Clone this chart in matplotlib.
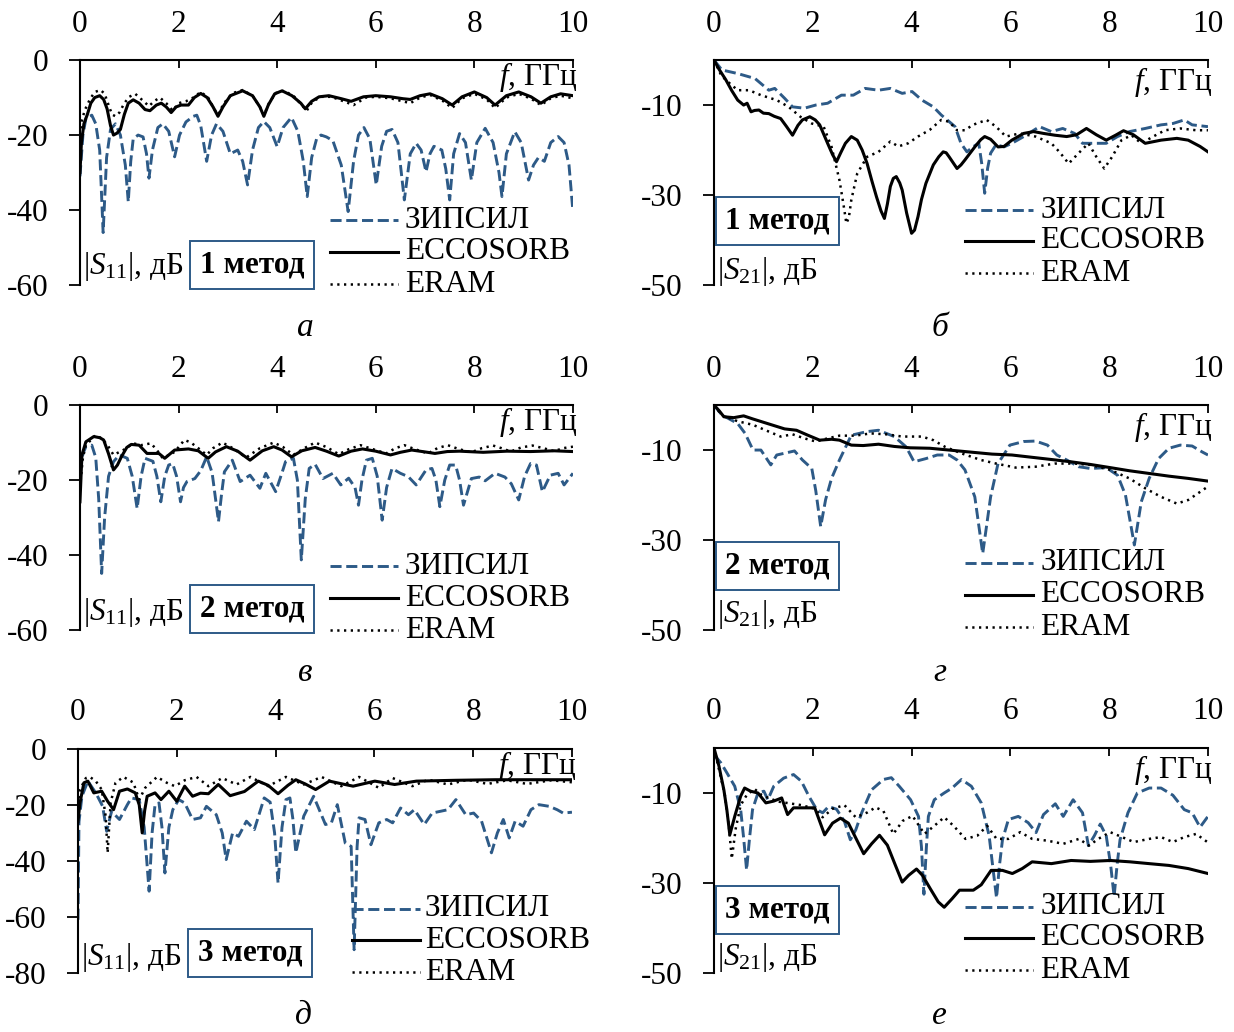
import numpy as np
import matplotlib
matplotlib.use("Agg")
import matplotlib.pyplot as plt

plt.rcParams['font.family'] = ['Liberation Serif', 'DejaVu Serif']
plt.rcParams['mathtext.fontset'] = 'custom'
plt.rcParams['mathtext.rm'] = 'Liberation Serif'
plt.rcParams['mathtext.it'] = 'Liberation Serif:italic'
plt.rcParams['axes.unicode_minus'] = False

# ---- data: (f, GHz ; dB) ----
# panel a: |S11|, method 1
a_zip = [(0, -31), (0.06, -20), (0.12, -15.6), (0.24, -14.7), (0.32, -17), (0.4, -24), (0.47, -46), (0.54, -26),
         (0.62, -18.5), (0.72, -17), (0.82, -20), (0.92, -28), (0.98, -37.8), (1.03, -27), (1.08, -21), (1.18, -20),
         (1.28, -20.5), (1.35, -25), (1.4, -31.5), (1.47, -24), (1.58, -18), (1.68, -17), (1.8, -19), (1.92, -25.8),
         (2.02, -20), (2.15, -16.5), (2.3, -15), (2.37, -14.7), (2.45, -17.5), (2.57, -27), (2.67, -20), (2.77, -17),
         (2.9, -19), (3.05, -25), (3.2, -24), (3.3, -27), (3.4, -33.3), (3.5, -24), (3.62, -18), (3.73, -16.4),
         (3.85, -18), (4.0, -23.1), (4.12, -18), (4.29, -15.3), (4.42, -19), (4.53, -27), (4.61, -36.4), (4.7, -26),
         (4.8, -21), (4.89, -20), (5.0, -20.5), (5.13, -21.5), (5.3, -28), (5.44, -40.4), (5.55, -27), (5.65, -20),
         (5.76, -18), (5.88, -21), (6.01, -33.3), (6.12, -23), (6.22, -19), (6.33, -18.5), (6.45, -22), (6.58, -37.3),
         (6.7, -25), (6.82, -22.2), (6.92, -24), (7.02, -29.8), (7.1, -25), (7.18, -23), (7.34, -24), (7.42, -29),
         (7.5, -37.3), (7.58, -25), (7.7, -19.6), (7.82, -22), (7.94, -32), (8.05, -22), (8.22, -18.2), (8.38, -22),
         (8.5, -30), (8.56, -36.4), (8.65, -25), (8.82, -19.1), (8.95, -22), (9.1, -32), (9.2, -28), (9.3, -26),
         (9.42, -27), (9.55, -22), (9.7, -20.4), (9.82, -22), (9.92, -28), (10, -40.4)]
a_ecc = [(0, -30), (0.03, -22), (0.08, -17), (0.15, -14.5), (0.22, -11.5), (0.3, -10), (0.4, -9.5), (0.48, -10.5),
         (0.55, -13), (0.62, -17.5), (0.68, -20), (0.75, -19.5), (0.82, -18.5), (0.9, -14.5), (0.98, -11.5),
         (1.08, -10.6), (1.2, -11.5), (1.32, -13.2), (1.42, -13.5), (1.55, -12), (1.65, -11.5), (1.75, -12.5),
         (1.85, -14), (1.95, -12.5), (2.05, -12), (2.2, -12), (2.32, -10), (2.45, -8.9), (2.58, -10), (2.7, -12.5),
         (2.8, -15), (2.9, -12.5), (3.05, -9.5), (3.3, -8.2), (3.5, -9.5), (3.65, -12.5), (3.73, -15), (3.82, -12),
         (3.95, -9), (4.1, -8.2), (4.3, -9.5), (4.48, -11.5), (4.57, -13), (4.7, -11), (4.85, -9.8), (5.05, -9.5),
         (5.3, -10.3), (5.5, -11), (5.75, -9.8), (6.0, -9.5), (6.3, -9.8), (6.55, -10.3), (6.7, -10.5), (6.9, -9.5),
         (7.1, -9), (7.35, -10.3), (7.55, -12), (7.75, -9.8), (8.0, -8.5), (8.25, -10), (8.42, -12), (8.65, -9.5),
         (8.9, -8.5), (9.15, -9.8), (9.35, -11.5), (9.55, -9.8), (9.75, -9), (10, -9.5)]
a_eram = [(0, -20), (0.04, -16), (0.1, -13.3), (0.2, -10.5), (0.3, -8.5), (0.42, -8), (0.5, -9), (0.58, -12),
          (0.65, -14.5), (0.72, -15), (0.8, -14), (0.9, -11.5), (1.0, -9.8), (1.12, -9), (1.25, -10.5), (1.4, -12.3),
          (1.5, -11), (1.62, -10), (1.75, -11.5), (1.88, -13.5), (2.0, -11.5), (2.15, -11), (2.3, -10), (2.45, -8.5),
          (2.6, -10), (2.72, -13), (2.8, -14.5), (2.92, -11.5), (3.1, -8.8), (3.3, -8), (3.5, -9.5), (3.65, -12.5),
          (3.73, -14.7), (3.85, -11), (4.0, -8.5), (4.15, -8.2), (4.35, -9.8), (4.5, -12), (4.6, -13.5), (4.72, -11),
          (4.9, -9.8), (5.1, -9.8), (5.35, -11), (5.55, -12), (5.8, -10), (6.0, -9.8), (6.3, -10.2), (6.55, -11),
          (6.7, -11.5), (6.9, -10), (7.1, -9.3), (7.35, -10.8), (7.55, -12.8), (7.75, -10.2), (8.0, -9), (8.25, -10.5),
          (8.42, -12.8), (8.65, -10), (8.9, -9), (9.15, -10.3), (9.35, -12), (9.55, -10.2), (9.75, -9.5), (10, -10.2)]

# panel b: |S21|, method 1
b_zip = [(0, 0), (0.16, -2.2), (0.48, -3), (0.83, -4.1), (1.11, -6.7), (1.23, -6.3), (1.43, -8.5), (1.59, -10.4),
         (1.83, -10.7), (2.06, -10), (2.3, -9.6), (2.58, -7.8), (2.82, -7.8), (3.06, -6.3), (3.33, -6.7), (3.57, -6.3),
         (3.81, -7.4), (4.01, -7), (4.21, -8.9), (4.44, -10.4), (4.6, -12.2), (4.72, -13.3), (4.88, -14.8), (5.0, -18.5),
         (5.12, -20.4), (5.24, -19.3), (5.36, -18.5), (5.42, -23), (5.48, -29.6), (5.54, -24), (5.6, -20.7),
         (5.71, -18.8), (5.87, -19.3), (6.03, -18.5), (6.27, -17), (6.59, -14.8), (6.83, -15.9), (7.06, -15.2),
         (7.3, -16.3), (7.46, -18.5), (7.7, -18.5), (7.94, -18.5), (8.17, -17), (8.41, -15.9), (8.73, -15.2),
         (9.05, -14.4), (9.29, -14.1), (9.52, -13.3), (9.68, -14.4), (10, -14.8)]
b_ecc = [(0, 0), (0.1, -2), (0.24, -4.4), (0.36, -6.8), (0.48, -8.9), (0.6, -10), (0.67, -9.6), (0.75, -11.5),
         (0.82, -11.2), (0.91, -11.1), (1.0, -11.8), (1.11, -11.9), (1.22, -12.5), (1.35, -13), (1.47, -14.8),
         (1.59, -16.7), (1.7, -14.5), (1.79, -13.3), (1.94, -12.6), (2.05, -13.3), (2.14, -14.4), (2.3, -18.5),
         (2.4, -21), (2.48, -22.6), (2.57, -20.5), (2.66, -18.5), (2.78, -17), (2.9, -17.8), (3.0, -20), (3.1, -23),
         (3.2, -27), (3.29, -30.4), (3.38, -33.5), (3.45, -35.2), (3.51, -32), (3.57, -28.1), (3.63, -26.3),
         (3.69, -25.9), (3.76, -27.3), (3.81, -28.9), (3.9, -34), (4.0, -38.5), (4.06, -37.8), (4.13, -34.8),
         (4.2, -31), (4.29, -27.4), (4.44, -23.3), (4.55, -21.5), (4.64, -20.4), (4.7, -20.6), (4.76, -21.5),
         (4.92, -24.1), (5.0, -23.3), (5.08, -22.2), (5.28, -19.3), (5.4, -17.7), (5.48, -17), (5.6, -17.6),
         (5.75, -19.3), (5.87, -19.2), (6.03, -17.8), (6.27, -16.3), (6.47, -15.9), (6.67, -16.3), (6.9, -16.7),
         (7.14, -17), (7.34, -16.6), (7.54, -15.2), (7.74, -16.6), (7.94, -17.8), (8.13, -16.7), (8.29, -15.7),
         (8.49, -16.6), (8.73, -18.5), (9.05, -17.8), (9.37, -17.4), (9.6, -17.8), (9.84, -19.2), (10, -20.4)]
b_eram = [(0, 0), (0.15, -3.5), (0.32, -5.2), (0.48, -6.7), (0.71, -6.7), (0.95, -7.8), (1.27, -8.9), (1.51, -10.4),
          (1.75, -12.6), (1.98, -14.1), (2.22, -14.8), (2.38, -19.3), (2.54, -26.7), (2.62, -32), (2.68, -36.3),
          (2.73, -35), (2.78, -31.1), (2.9, -25.2), (3.1, -21.5), (3.33, -20.4), (3.57, -18.1), (3.73, -19.2),
          (3.93, -18.5), (4.13, -17), (4.37, -15.5), (4.6, -13.3), (4.76, -13.7), (4.92, -15.6), (5.08, -15.6),
          (5.24, -14.4), (5.52, -13.3), (5.71, -14.8), (5.91, -17), (6.19, -16.3), (6.51, -17), (6.83, -18.5),
          (7.0, -20.5), (7.18, -23), (7.38, -20.7), (7.58, -18.5), (7.74, -21.5), (7.9, -24.1), (8.06, -21.5),
          (8.25, -17.8), (8.45, -16.7), (8.65, -18.5), (8.89, -17), (9.13, -15.6), (9.44, -15.2), (9.76, -15.6),
          (10, -15.6)]

# panel c: |S11|, method 2
c_zip = [(0, -17.8), (0.06, -13), (0.12, -11.1), (0.24, -10.7), (0.32, -14), (0.38, -25), (0.44, -44.9), (0.5, -30),
         (0.58, -19), (0.68, -15.1), (0.8, -13.3), (0.96, -14.2), (1.06, -19), (1.16, -27.6), (1.24, -19), (1.32, -14.2),
         (1.48, -15), (1.56, -19), (1.64, -25.8), (1.72, -19), (1.8, -16), (1.88, -15.6), (1.96, -19), (2.04, -25.8),
         (2.1, -22), (2.17, -20.4), (2.33, -19.6), (2.45, -17.5), (2.57, -13.8), (2.68, -18), (2.75, -25),
         (2.81, -31.1), (2.87, -24), (2.93, -17.8), (3.09, -14.7), (3.25, -20.4), (3.45, -18.7), (3.65, -22.2),
         (3.77, -18.2), (3.97, -23.1), (4.1, -18), (4.17, -15.1), (4.33, -14.2), (4.41, -20), (4.49, -41.3),
         (4.57, -25), (4.65, -16.9), (4.77, -15.8), (4.93, -19.6), (5.13, -18.2), (5.29, -21.3), (5.45, -19.5),
         (5.58, -22), (5.65, -26.7), (5.72, -20), (5.81, -14.7), (5.93, -14.2), (6.03, -19), (6.13, -30.7), (6.22, -22),
         (6.33, -16.9), (6.5, -18.2), (6.66, -19.1), (6.82, -21.3), (7.02, -17.3), (7.14, -16.9), (7.22, -20),
         (7.3, -27.1), (7.4, -20), (7.5, -16), (7.62, -16), (7.7, -20), (7.78, -26.7), (7.94, -19.6), (8.1, -19.2),
         (8.22, -20.2), (8.42, -18.2), (8.62, -19.2), (8.75, -21), (8.9, -25.3), (9.02, -19), (9.14, -15.6),
         (9.26, -16), (9.38, -23.1), (9.54, -18.7), (9.7, -18.2), (9.82, -21.3), (10, -18.2)]
c_ecc = [(0, -25.8), (0.04, -13.3), (0.12, -9.8), (0.28, -8.4), (0.4, -8.7), (0.48, -9.3), (0.58, -13), (0.68, -17.3),
         (0.76, -16), (0.84, -13.8), (0.95, -11.3), (1.04, -10.5), (1.2, -10.7), (1.36, -12.9), (1.6, -12.9),
         (1.72, -14.2), (1.92, -12), (2.2, -11.7), (2.4, -12.2), (2.6, -14.2), (2.75, -12.5), (2.97, -11.1),
         (3.2, -12.3), (3.45, -14.7), (3.7, -12.2), (3.93, -11.1), (4.1, -12), (4.29, -13.8), (4.5, -12.2),
         (4.77, -11.3), (5.0, -12.3), (5.25, -13.6), (5.5, -12.3), (5.73, -11.7), (6.0, -12.3), (6.3, -13.3),
         (6.5, -12.6), (6.73, -12), (7.0, -12.5), (7.2, -12.9), (7.45, -12.4), (7.7, -12.3), (8.18, -12.6),
         (8.66, -12.3), (9.14, -12.4), (9.62, -12.2), (10, -12.4)]
c_eram = [(0, -22), (0.06, -14), (0.12, -10.7), (0.32, -8), (0.45, -9), (0.56, -10.7), (0.68, -13.3), (0.88, -12),
          (1.08, -10.2), (1.24, -10.7), (1.44, -10.2), (1.56, -12), (1.68, -14.2), (1.92, -12.5), (2.12, -9.3),
          (2.25, -10), (2.4, -11.5), (2.57, -13.3), (2.7, -11.5), (2.89, -10), (3.1, -11.5), (3.37, -14), (3.65, -11.5),
          (3.93, -10), (4.12, -11.2), (4.33, -13.3), (4.55, -11.5), (4.77, -10), (5.0, -11.2), (5.25, -13.1),
          (5.45, -11.8), (5.69, -10.7), (5.95, -11.8), (6.21, -12.9), (6.4, -11.5), (6.58, -10.7), (6.8, -11.8),
          (7.06, -12.9), (7.25, -11.5), (7.46, -10.7), (7.7, -11.8), (7.94, -12.6), (8.15, -11.5), (8.38, -10.8),
          (8.55, -11.5), (8.74, -12.4), (8.95, -11.3), (9.18, -10.8), (9.4, -11.5), (9.62, -12.3), (9.8, -11.5),
          (10, -11.1)]

# panel d: |S21|, method 2
d_zip = [(0, 0), (0.16, -2.2), (0.48, -4.1), (0.63, -6.3), (0.79, -10), (0.95, -10), (1.15, -13.3), (1.27, -11.1),
         (1.43, -10.7), (1.63, -10.2), (1.79, -12.2), (1.98, -14.1), (2.06, -19), (2.16, -27), (2.26, -21),
         (2.38, -16.3), (2.54, -12.2), (2.78, -6.7), (3.1, -5.9), (3.33, -5.6), (3.65, -7), (3.89, -9.3), (4.05, -12.6),
         (4.29, -11.9), (4.52, -11.1), (4.76, -11.1), (4.92, -12.2), (5.08, -14.4), (5.28, -20.4), (5.44, -33),
         (5.6, -20.4), (5.75, -13), (5.99, -8.9), (6.27, -8.1), (6.51, -8), (6.75, -8.9), (6.94, -11.1), (7.14, -12.2),
         (7.38, -13.7), (7.62, -14.1), (7.94, -13.9), (8.17, -15.6), (8.33, -20), (8.51, -31.1), (8.65, -21.5),
         (8.81, -16.3), (9.0, -11.9), (9.21, -9.6), (9.44, -8.9), (9.68, -9.1), (9.88, -10.4), (10, -11.1)]
d_ecc = [(0, 0), (0.1, -1.2), (0.2, -2.6), (0.4, -2.8), (0.6, -2.4), (0.79, -3.1), (1.11, -4.2), (1.43, -5.3),
         (1.67, -5.6), (1.9, -6.7), (2.14, -7.8), (2.38, -7.6), (2.54, -7.8), (2.78, -8.9), (3.02, -9.0), (3.33, -8.7),
         (3.65, -9.2), (3.97, -9.5), (4.37, -9.6), (4.76, -10), (5.24, -10.5), (5.63, -10.9), (6.03, -11.1),
         (6.43, -11.6), (6.83, -12.1), (7.22, -12.6), (7.62, -13.2), (8.02, -13.9), (8.41, -14.6), (8.81, -15.2),
         (9.21, -15.8), (9.6, -16.3), (10, -16.9)]
d_eram = [(0, 0), (0.16, -2.3), (0.48, -3.6), (0.79, -4.4), (1.11, -5.9), (1.35, -7), (1.59, -6.5), (1.83, -7.4),
          (2.06, -8.1), (2.3, -7.4), (2.54, -6.8), (2.86, -6.8), (3.17, -6.3), (3.49, -6.5), (3.81, -7), (4.21, -7),
          (4.44, -7.8), (4.68, -9.3), (5.0, -10.7), (5.4, -12.2), (5.71, -13), (6.11, -13.9), (6.51, -13.7),
          (6.9, -13), (7.3, -13), (7.62, -13.3), (8.02, -14.4), (8.41, -16.3), (8.73, -18.5), (9.05, -20.4),
          (9.37, -21.9), (9.6, -21.1), (9.84, -19.3), (10, -18.1)]

# panel e: |S11|, method 3
e_zip = [(0, -61), (0.02, -26), (0.08, -16.9), (0.2, -11.5), (0.36, -15.7), (0.5, -20.5), (0.58, -29.4), (0.68, -22.3),
         (0.84, -25.2), (1.0, -19.9), (1.08, -17.5), (1.24, -18.1), (1.34, -28), (1.44, -50.8), (1.5, -30),
         (1.56, -19.9), (1.64, -19.3), (1.7, -28), (1.76, -44.3), (1.84, -28), (1.92, -21.7), (2.04, -18.1),
         (2.16, -19.3), (2.32, -25.2), (2.48, -24.6), (2.6, -20.5), (2.8, -23.5), (2.92, -30), (3.0, -39.5),
         (3.13, -30), (3.25, -31.2), (3.41, -25.8), (3.57, -28.8), (3.77, -17.5), (3.89, -19), (3.98, -30),
         (4.05, -47.9), (4.13, -28), (4.21, -18.1), (4.29, -17.5), (4.35, -25), (4.41, -37.1), (4.57, -24),
         (4.77, -16.9), (5.01, -27), (5.13, -26.4), (5.25, -19.9), (5.41, -33.6), (5.53, -34.8), (5.59, -71.7),
         (5.65, -35), (5.69, -24.6), (5.81, -25.2), (5.93, -34.2), (6.09, -26.4), (6.25, -25.2), (6.37, -26.4),
         (6.53, -21.1), (6.69, -23.5), (6.81, -21.7), (7.01, -27), (7.17, -22.9), (7.33, -22.3), (7.49, -21.7),
         (7.65, -18.1), (7.85, -23.5), (8.01, -22.9), (8.17, -25.8), (8.37, -37.1), (8.49, -30), (8.61, -25.2),
         (8.73, -31.8), (8.85, -25.8), (9.01, -27.6), (9.17, -21.7), (9.33, -19.9), (9.54, -20.5), (9.7, -21.7),
         (9.82, -22.9), (10, -22.6)]
e_ecc = [(0, -26), (0.04, -19.3), (0.12, -12.1), (0.2, -11.5), (0.32, -15.7), (0.48, -15.1), (0.6, -18.7),
         (0.72, -21.7), (0.84, -15.1), (1.0, -14.3), (1.16, -15.7), (1.24, -20), (1.3, -30), (1.35, -22), (1.4, -16.9),
         (1.56, -15.7), (1.68, -18.1), (1.84, -15.1), (2.0, -18.7), (2.16, -13.3), (2.32, -16.9), (2.48, -15.8),
         (2.64, -16), (2.84, -12.7), (3.08, -16.7), (3.37, -15.2), (3.65, -11.5), (3.85, -13), (4.05, -16), (4.25, -13),
         (4.41, -11), (4.6, -12.5), (4.81, -14.5), (5.09, -11.5), (5.35, -12.5), (5.57, -13.3), (6.01, -11.5),
         (6.41, -12.7), (6.85, -11.5), (7.65, -11.2), (8.45, -11), (9.25, -11), (10, -11)]
e_eram = [(0, -20), (0.04, -14.5), (0.16, -10.4), (0.24, -10), (0.36, -11.5), (0.48, -14.5), (0.56, -24), (0.6, -37.1),
          (0.66, -19.3), (0.76, -12.1), (0.92, -10), (1.12, -12), (1.24, -18.1), (1.36, -13.9), (1.6, -10),
          (1.8, -12.1), (1.96, -13.3), (2.16, -11.2), (2.4, -10), (2.64, -13.3), (2.92, -10.4), (3.21, -12.7),
          (3.49, -10), (3.85, -13.3), (4.21, -10), (4.57, -12.7), (4.93, -10), (5.33, -13.3), (5.69, -10),
          (6.09, -13.9), (6.37, -10.4), (6.77, -13.3), (7.09, -11), (7.49, -12.7), (7.89, -11), (8.29, -12.5),
          (8.69, -11.2), (9.09, -12.5), (9.58, -11.2), (10, -11.9)]

# panel f: |S21|, method 3
f_zip = [(0, -1.5), (0.14, -3.3), (0.26, -5.5), (0.42, -8.5), (0.54, -13.7), (0.6, -20), (0.66, -27.1), (0.72, -20),
         (0.78, -13.7), (0.89, -10), (1.01, -9.6), (1.09, -11.5), (1.21, -8.5), (1.41, -6.7), (1.61, -5.9),
         (1.77, -7.4), (1.92, -10.7), (2.08, -13.7), (2.2, -14.4), (2.32, -13), (2.48, -13.6), (2.64, -16.3),
         (2.76, -20.4), (2.87, -18.2), (2.99, -14.4), (3.19, -9.3), (3.43, -7), (3.59, -6.6), (3.75, -8.5),
         (3.98, -11.5), (4.14, -15.2), (4.2, -22), (4.25, -32.5), (4.3, -22), (4.34, -15.2), (4.46, -11.5), (4.66, -10),
         (4.82, -8.9), (5.01, -7), (5.21, -8.5), (5.41, -12.2), (5.57, -19.5), (5.65, -27), (5.72, -33.3), (5.78, -26),
         (5.84, -20.4), (5.96, -15.9), (6.16, -15.2), (6.36, -16.6), (6.52, -18.8), (6.67, -14.8), (6.91, -12.4),
         (7.07, -15.2), (7.27, -11.5), (7.46, -14.4), (7.58, -21.7), (7.7, -19.5), (7.82, -16.9), (7.94, -19.5),
         (8.03, -26), (8.1, -33), (8.16, -26), (8.22, -20.4), (8.38, -14.4), (8.57, -10), (8.81, -8.9), (9.05, -8.9),
         (9.29, -10.5), (9.52, -13.7), (9.68, -14.4), (9.84, -17.6), (10, -15.2)]
f_ecc = [(0, 0), (0.1, -4), (0.2, -9.3), (0.26, -13.7), (0.32, -19.3), (0.42, -15.2), (0.54, -10.7), (0.62, -8.9),
         (0.74, -9.6), (0.89, -10), (1.05, -12.2), (1.21, -11.8), (1.37, -11.1), (1.49, -14.8), (1.61, -13.3),
         (1.84, -13.3), (2.04, -13.3), (2.24, -19.3), (2.4, -16.7), (2.56, -15.6), (2.72, -16.7), (3.03, -23.5),
         (3.19, -21.3), (3.35, -19.4), (3.51, -21.6), (3.67, -26), (3.81, -29.8), (3.94, -28.3), (4.1, -26.9),
         (4.22, -28.3), (4.38, -31.3), (4.54, -34.2), (4.66, -35.4), (4.82, -33.5), (4.97, -31.6), (5.25, -31.6),
         (5.41, -30.4), (5.61, -27.2), (5.84, -27.2), (6.04, -27.9), (6.24, -26.8), (6.44, -25.3), (6.83, -25.7),
         (7.23, -25), (7.62, -25.2), (8.02, -25), (8.42, -25.3), (8.81, -25.7), (9.21, -26.1), (9.6, -26.8),
         (10, -27.9)]
f_eram = [(0, 0), (0.1, -4.7), (0.22, -10.5), (0.3, -17.2), (0.36, -24.6), (0.44, -17.9), (0.54, -12.7), (0.66, -10.5),
          (0.82, -9.1), (0.97, -10.5), (1.13, -11.2), (1.29, -11.9), (1.53, -12.3), (1.77, -12.7), (2.04, -13.5),
          (2.2, -15.4), (2.4, -13.5), (2.64, -12.7), (2.87, -15.4), (3.11, -14.3), (3.27, -13.2), (3.43, -14),
          (3.63, -19.1), (3.82, -16.2), (4.02, -15.1), (4.26, -19.1), (4.46, -17.3), (4.66, -15.4), (4.85, -17.3),
          (5.09, -20.2), (5.33, -19.5), (5.53, -17.3), (5.72, -20.2), (5.96, -20.2), (6.2, -18.7), (6.44, -20.2),
          (6.75, -20.6), (7.07, -21.3), (7.39, -20.2), (7.59, -21.7), (7.78, -20.2), (8.02, -18.7), (8.26, -19.8),
          (8.5, -20.9), (8.81, -20.2), (9.05, -19.8), (9.29, -20.9), (9.52, -19.8), (9.76, -19.1), (10, -21)]

series_names = ['ЗИПСИЛ', 'ECCOSORB', 'ERAM']
x_ticks = [0, 2, 4, 6, 8, 10]
s11_ticks = [0, -20, -40, -60]
s11_ticks_3 = [0, -20, -40, -60, -80]
s21_ticks = [-10, -30, -50]
captions = ['а', 'б', 'в', 'г', 'д', 'е']
methods = ['1 метод', '1 метод', '2 метод', '2 метод', '3 метод', '3 метод']

BLUE = '#2d5a87'
styles = [dict(color=BLUE, lw=2.1, linestyle=(0, (3.8, 1.6))),
          dict(color='black', lw=2.2, linestyle='-'),
          dict(color='black', lw=1.8, linestyle=(0, (0.9, 1.8)))]
FS = 22.5

fig = plt.figure(figsize=(12.34, 10.32), dpi=100)

# layout: axes rects (figure fraction) and in-axes text positions
panels = [
    dict(rect=[0.0648, 0.7238, 0.3995, 0.2180], curves=(a_zip, a_ecc, a_eram), ylim=-60, yt=s11_ticks, s='11',
         leg=(0.507, 0.645, 0.659, [0.289, 0.147, 0.004]), box=(0.349, 0.089), ylab=0.084, flab=0.924),
    dict(rect=[0.5786, 0.7238, 0.4003, 0.2180], curves=(b_zip, b_ecc, b_eram), ylim=-50, yt=s21_ticks, s='21',
         leg=(0.508, 0.646, 0.660, [0.333, 0.196, 0.053]), box=(0.128, 0.284), ylab=0.062, flab=0.902),
    dict(rect=[0.0648, 0.3895, 0.3995, 0.2180], curves=(c_zip, c_ecc, c_eram), ylim=-60, yt=s11_ticks, s='11',
         leg=(0.507, 0.645, 0.659, [0.284, 0.142, 0.0]), box=(0.349, 0.093), ylab=0.080, flab=0.924),
    dict(rect=[0.5786, 0.3895, 0.4003, 0.2180], curves=(d_zip, d_ecc, d_eram), ylim=-50, yt=s21_ticks, s='21',
         leg=(0.508, 0.646, 0.660, [0.298, 0.156, 0.013]), box=(0.128, 0.284), ylab=0.067, flab=0.902),
    dict(rect=[0.0632, 0.0572, 0.4003, 0.2171], curves=(e_zip, e_ecc, e_eram), ylim=-80, yt=s11_ticks_3, s='11',
         leg=(0.555, 0.692, 0.702, [0.286, 0.147, 0.004]), box=(0.348, 0.089), ylab=0.071, flab=0.924),
    dict(rect=[0.5786, 0.0572, 0.4003, 0.2180], curves=(f_zip, f_ecc, f_eram), ylim=-50, yt=s21_ticks, s='21',
         leg=(0.508, 0.646, 0.660, [0.295, 0.156, 0.013]), box=(0.128, 0.280), ylab=0.067, flab=0.902),
]

for i, p in enumerate(panels):
    ax = fig.add_axes(p['rect'])
    for data, st in zip(p['curves'], styles):
        arr = np.array(data)
        ax.plot(arr[:, 0], arr[:, 1], **st, solid_joinstyle='round')

    ax.set_xlim(0, 10)
    ax.set_ylim(p['ylim'], 0)
    ax.spines['bottom'].set_visible(False)
    ax.spines['right'].set_visible(False)
    for sp in ('top', 'left'):
        ax.spines[sp].set_linewidth(1.5)
    ax.xaxis.tick_top()
    ax.set_xticks(x_ticks)
    ax.set_yticks(p['yt'])
    ax.tick_params(axis='x', direction='in', length=6, width=1.3, pad=15.5, labelsize=FS)
    ax.tick_params(axis='y', direction='out', length=8, width=1.3, pad=15, labelsize=FS)

    # legend drawn by hand
    x0, x1, xt, rows = p['leg']
    for name, st, yy in zip(series_names, styles, rows):
        ax.plot([x0, x1], [yy, yy], transform=ax.transAxes, clip_on=False, **st)
        ax.text(xt, yy, name, transform=ax.transAxes, fontsize=FS, va='center', ha='left')

    ax.text(p['box'][0], p['box'][1], methods[i], transform=ax.transAxes, fontsize=FS,
            fontweight='bold', ha='center', va='center',
            bbox=dict(boxstyle='square,pad=0.3', fc='white', ec=BLUE, lw=1.4))
    ax.text(0.006, p['ylab'], r'$|\mathit{S}_{\mathrm{' + p['s'] + r'}}|$, дБ', transform=ax.transAxes,
            fontsize=FS, ha='left', va='center')
    ax.text(1.01, p['flab'], r'$\mathit{f}$, ГГц', transform=ax.transAxes,
            fontsize=FS, ha='right', va='center')

    r = p['rect']
    fig.text(r[0] + 0.457 * r[2], r[1] - 0.041, captions[i], fontsize=24, style='italic',
             ha='center', va='center')

fig.savefig('out.png', dpi=100)
